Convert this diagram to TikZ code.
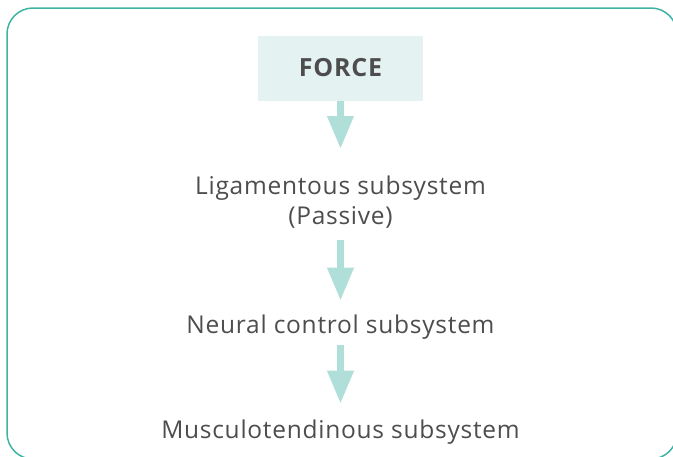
\documentclass[tikz,border=0pt]{standalone}
\usepackage{fontspec}
\setmainfont{Open Sans}[LetterSpace=3]
\usetikzlibrary{arrows.meta,positioning}
\definecolor{frameteal}{HTML}{3DB3A3}
\definecolor{forcefill}{HTML}{E4F3F2}
\definecolor{arrowteal}{HTML}{B0DFDA}
\definecolor{textgrey}{HTML}{4D4D4D}
\tikzset{
  stage/.style={font=\fontsize{24.5}{30}\selectfont, text=textgrey, align=center, inner sep=0pt},
  forcebox/.style={fill=forcefill, minimum width=165pt, minimum height=65pt, inner sep=0pt,
    font=\fontsize{25}{28}\selectfont\bfseries, text=textgrey},
  flow/.style={draw=arrowteal, line width=7pt, -{Triangle[width=25pt,length=33pt]}},
}
\begin{document}
\begin{tikzpicture}[x=1pt,y=-1pt]
\useasboundingbox (0,0) rectangle (673,456);
% frame
\draw[frameteal, line width=1.5pt, rounded corners=26pt] (7,8) rectangle (677,459);
% stages
\node (force) at (340.5,68) [forcebox] {FORCE};
\node (lig) at (340.5,175.5) [stage, anchor=north] {Ligamentous subsystem\\(Passive)};
\node (neural) at (340.5,333) [stage, anchor=base] {Neural control subsystem};
\node (musc) at (340.5,438) [stage, anchor=base] {Musculotendinous subsystem};
% arrows
\draw[flow, shorten >=26.5pt] (force.south) -- (lig.north);
\draw[flow, shorten <=12pt, shorten >=13.5pt] (lig.south) -- (neural.north);
\draw[flow, shorten <=6pt, shorten >=15.5pt] (neural.south) -- (musc.north);
\end{tikzpicture}
\end{document}
